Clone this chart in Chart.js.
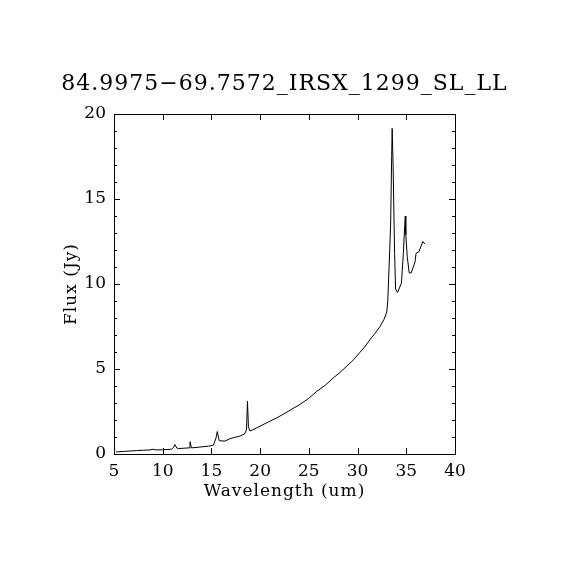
<!DOCTYPE html>
<html>
<head>
<meta charset="utf-8">
<script src="https://cdn.jsdelivr.net/npm/chart.js@4/dist/chart.umd.min.js"></script>
<style>
  html, body { margin: 0; padding: 0; background: #ffffff; }
</style>
</head>
<body>
<canvas id="spectrum" width="570" height="570"></canvas>
<script>
// Spectrum values
const wavelength = [5.2, 6.0, 7.3, 8.0, 8.7, 9.0, 9.3, 10.0, 10.9, 11.1, 11.25, 11.45, 11.6,
    12.7, 12.8, 12.95, 14.0, 14.7, 15.2, 15.45, 15.6, 15.8, 16.4, 16.9, 17.4, 17.9, 18.4,
    18.6, 18.7, 18.8, 18.95, 19.6, 20.2, 21.0, 21.7, 22.4, 23.2, 24.1, 25.0, 25.8, 26.7,
    27.5, 28.2, 28.9, 29.6, 30.2, 30.8, 31.3, 31.8, 32.3, 32.7, 33.0, 33.1, 33.3, 33.4,
    33.5, 33.55, 33.65, 33.8, 33.9, 34.1, 34.5, 34.7, 34.8, 34.9, 34.95, 35.1, 35.3, 35.5,
    35.9, 36.0, 36.3, 36.7, 36.9];
const flux = [0.12, 0.15, 0.2, 0.22, 0.24, 0.28, 0.24, 0.25, 0.28, 0.38, 0.55, 0.35, 0.32,
    0.36, 0.72, 0.36, 0.42, 0.46, 0.52, 0.9, 1.32, 0.78, 0.76, 0.9, 0.98, 1.05, 1.18,
    1.42, 3.1, 1.6, 1.35, 1.52, 1.7, 1.93, 2.12, 2.35, 2.62, 2.92, 3.28, 3.68, 4.05,
    4.47, 4.8, 5.17, 5.55, 5.95, 6.35, 6.75, 7.1, 7.5, 7.9, 8.35, 9.0, 12.0, 13.7,
    17.5, 19.15, 16.9, 11.8, 9.7, 9.5, 10.05, 11.8, 13.0, 14.0, 12.9, 11.6, 10.65, 10.65,
    11.3, 11.8, 11.9, 12.5, 12.35];

const xTicks = [5, 10, 15, 20, 25, 30, 35, 40];
const yTicks = [0, 5, 10, 15, 20];
const yMinorTicks = [1, 2, 3, 4, 6, 7, 8, 9, 11, 12, 13, 14, 16, 17, 18, 19];

const chartTitle = '84.9975\u221269.7572_IRSX_1299_SL_LL';
const xLabel = 'Wavelength (um)';
const yLabel = 'Flux (Jy)';

const serif = '"DejaVu Serif", "Liberation Serif", serif';

// Frame, inward ticks and titles
const framePlugin = {
    id: 'frame',
    afterDraw(chart) {
        const ctx = chart.ctx;
        const { left, right, top, bottom } = chart.chartArea;
        const xs = chart.scales.x;
        const ys = chart.scales.y;
        ctx.save();
        ctx.strokeStyle = '#000000';
        ctx.lineWidth = 1;
        ctx.strokeRect(left + 0.5, top + 0.5, right - left, bottom - top);

        ctx.beginPath();
        xTicks.forEach(v => {
            const px = Math.round(xs.getPixelForValue(v)) + 0.5;
            ctx.moveTo(px, bottom); ctx.lineTo(px, bottom - 6);
            ctx.moveTo(px, top); ctx.lineTo(px, top + 6);
        });
        yTicks.forEach(v => {
            const py = Math.round(ys.getPixelForValue(v)) + 0.5;
            ctx.moveTo(left, py); ctx.lineTo(left + 6, py);
            ctx.moveTo(right, py); ctx.lineTo(right - 6, py);
        });
        yMinorTicks.forEach(v => {
            const py = Math.round(ys.getPixelForValue(v)) + 0.5;
            ctx.moveTo(left, py); ctx.lineTo(left + 3, py);
            ctx.moveTo(right, py); ctx.lineTo(right - 3, py);
        });
        ctx.stroke();

        ctx.fillStyle = '#000000';
        ctx.textAlign = 'center';
        ctx.textBaseline = 'middle';
        ctx.letterSpacing = '1px';
        ctx.font = '22px ' + serif;
        ctx.fillText(chartTitle, (left + right) / 2, 84);
        ctx.font = '17px ' + serif;
        ctx.fillText(xLabel, (left + right) / 2, 492);
        ctx.translate(72, (top + bottom) / 2);
        ctx.rotate(-Math.PI / 2);
        ctx.fillText(yLabel, 0, 0);
        ctx.restore();
    }
};

document.addEventListener('DOMContentLoaded', () => {
    const ctx = document.querySelector('#spectrum').getContext('2d');

    new Chart(ctx, {
        type: 'scatter',
        data: {
            datasets: [{
                data: wavelength.map((w, i) => ({ x: w, y: flux[i] })),
                showLine: true,
                borderColor: '#000000',
                borderWidth: 1,
                pointRadius: 0,
                tension: 0
            }]
        },
        options: {
            responsive: false,
            animation: false,
            devicePixelRatio: 1,
            layout: { padding: { top: 114, right: 115, left: 0, bottom: 0 } },
            scales: {
                x: {
                    type: 'linear',
                    min: 5,
                    max: 40,
                    afterFit: scale => { scale.height = 116; },
                    afterBuildTicks: scale => { scale.ticks = xTicks.map(v => ({ value: v })); },
                    grid: { display: false, drawTicks: false },
                    border: { display: false },
                    ticks: { color: '#000000', padding: 7, maxRotation: 0, font: { size: 17, family: serif } }
                },
                y: {
                    min: 0,
                    max: 20,
                    afterFit: scale => { scale.width = 114; },
                    afterBuildTicks: scale => { scale.ticks = yTicks.map(v => ({ value: v })); },
                    grid: { display: false, drawTicks: false },
                    border: { display: false },
                    ticks: { color: '#000000', padding: 8, font: { size: 17, family: serif } }
                }
            },
            plugins: {
                legend: { display: false },
                tooltip: { enabled: false }
            }
        },
        plugins: [framePlugin]
    });
});
</script>
</body>
</html>
